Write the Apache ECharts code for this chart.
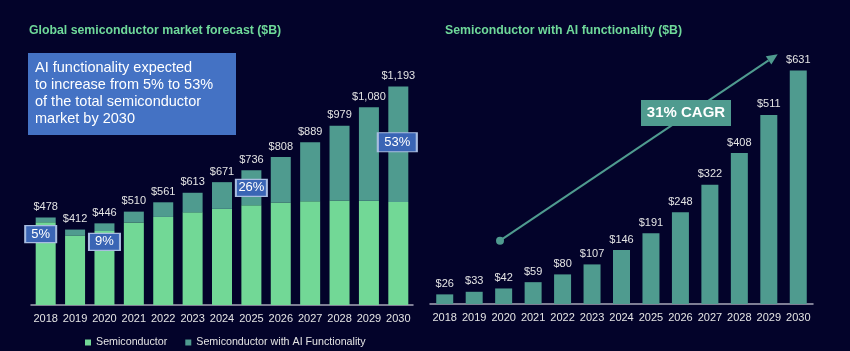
<!DOCTYPE html>
<html>
<head>
<meta charset="utf-8">
<script src="https://cdn.jsdelivr.net/npm/echarts@6/dist/echarts.min.js"></script>
<style>
  html, body { margin: 0; padding: 0; background: #03032a; }
  #chart { width: 850px; height: 351px; }
</style>
</head>
<body>
<div id="chart"></div>
<script>
const years = ['2018', '2019', '2020', '2021', '2022', '2023', '2024', '2025', '2026', '2027', '2028', '2029', '2030']
// left chart: stacked parts (non-AI + AI) and the total labels
const semiValues = [452, 379, 404, 451, 481, 506, 525, 545, 560, 567, 571, 569, 562]
const aiValues = [26, 33, 42, 59, 80, 107, 146, 191, 248, 322, 408, 511, 631]
const totalLabels = ['$478', '$412', '$446', '$510', '$561', '$613', '$671', '$736', '$808', '$889', '$979', '$1,080', '$1,193']
// AI share callouts: [year, y position value, text]
const shareBoxes = [['2018', 387, '5%'], ['2020', 345, '9%'], ['2025', 640, '26%'], ['2030', 889, '53%']]

const C = {
  bg: '#03032a', green: '#72d896', teal: '#4f9b8f', title: '#6fd99a',
  text: '#e4e4e4', axis: '#a8a8b8', blue: '#4472c4', boxBlue: '#3a65b5'
}
const FONT = '"Liberation Sans", Arial, sans-serif'

const chart = echarts.init(document.getElementById('chart'), null, { renderer: 'canvas' })

// arrow for CAGR
const a0 = [500, 240.7], a1 = [777.7, 54.3]
const dx = a1[0] - a0[0], dy = a1[1] - a0[1], len = Math.hypot(dx, dy)
const ux = dx / len, uy = dy / len
const hb = [a1[0] - 11 * ux, a1[1] - 11 * uy]

const xAxisBase = {
  type: 'category',
  data: years,
  axisLine: { lineStyle: { color: C.axis, width: 1.5 } },
  axisTick: { show: false },
  axisLabel: { color: C.text, fontSize: 11, fontFamily: FONT, margin: 8, interval: 0 }
}

const option = {
  backgroundColor: C.bg,
  animation: false,
  title: [
    { text: 'Global semiconductor market forecast ($B)', left: 24, top: 20, textStyle: { color: C.title, fontSize: 12.3, fontWeight: 'bold', fontFamily: FONT } },
    { text: 'Semiconductor with AI functionality ($B)', left: 440, top: 20, textStyle: { color: C.title, fontSize: 12.3, fontWeight: 'bold', fontFamily: FONT } }
  ],
  legend: {
    left: 80, top: 332,
    itemWidth: 6, itemHeight: 6, itemGap: 18,
    icon: 'rect',
    textStyle: { color: C.text, fontSize: 10.7, fontFamily: FONT },
    data: ['Semiconductor', 'Semiconductor with AI Functionality']
  },
  grid: [
    { left: 31, right: 437, top: 67, bottom: 46 },
    { left: 430, right: 37, top: 45, bottom: 47 }
  ],
  xAxis: [
    Object.assign({ gridIndex: 0 }, xAxisBase),
    Object.assign({ gridIndex: 1 }, xAxisBase)
  ],
  yAxis: [
    { gridIndex: 0, type: 'value', min: 0, max: 1300, show: false },
    { gridIndex: 1, type: 'value', min: 0, max: 700, show: false }
  ],
  series: [
    {
      name: 'Semiconductor',
      type: 'bar', stack: 'total', xAxisIndex: 0, yAxisIndex: 0,
      data: semiValues,
      barWidth: 20,
      itemStyle: { color: C.green },
      markPoint: {
        symbol: 'rect',
        z: 10,
        data: shareBoxes.map(b => ({
          coord: [b[0], b[1]],
          value: b[2],
          symbolSize: b[2] === '53%' ? [39, 19] : [31, 17],
          symbolOffset: b[0] === '2018' ? [-5, 0] : (b[0] === '2030' ? [-1, 0] : [0, 0])
        })),
        itemStyle: { color: C.boxBlue, borderColor: '#a9bde0', borderWidth: 1.5 },
        label: { show: true, formatter: p => p.value, color: '#ffffff', fontSize: 13, fontFamily: FONT }
      }
    },
    {
      name: 'Semiconductor with AI Functionality',
      type: 'bar', stack: 'total', xAxisIndex: 0, yAxisIndex: 0,
      data: aiValues,
      barWidth: 20,
      itemStyle: { color: C.teal },
      label: {
        show: true, position: 'top', distance: 5,
        formatter: p => totalLabels[p.dataIndex],
        color: C.text, fontSize: 11, fontFamily: FONT
      }
    },
    {
      name: 'AI only',
      type: 'bar', xAxisIndex: 1, yAxisIndex: 1,
      data: aiValues,
      barWidth: 17,
      itemStyle: { color: C.teal },
      label: {
        show: true, position: 'top', distance: 5,
        formatter: p => '$' + p.value,
        color: C.text, fontSize: 11, fontFamily: FONT
      }
    }
  ],
  graphic: [
    {
      type: 'rect', left: 28, top: 53, z: 5,
      shape: { width: 208, height: 82 },
      style: { fill: C.blue }
    },
    {
      type: 'text', left: 35, top: 59, z: 6,
      style: {
        text: 'AI functionality expected\nto increase from 5% to 53%\nof the total semiconductor\nmarket by 2030',
        fill: '#ffffff', fontSize: 14.5, lineHeight: 17, fontFamily: FONT
      }
    },
    {
      type: 'line', z: 5,
      shape: { x1: a0[0], y1: a0[1], x2: hb[0], y2: hb[1] },
      style: { stroke: C.teal, lineWidth: 2 }
    },
    {
      type: 'polygon', z: 5,
      shape: { points: [a1, [hb[0] + 5 * uy, hb[1] - 5 * ux], [hb[0] - 5 * uy, hb[1] + 5 * ux]] },
      style: { fill: C.teal }
    },
    {
      type: 'circle', z: 5,
      shape: { cx: a0[0], cy: a0[1], r: 4 },
      style: { fill: C.teal }
    },
    {
      type: 'rect', left: 641, top: 100, z: 6,
      shape: { width: 90, height: 26 },
      style: { fill: C.teal }
    },
    {
      type: 'text', z: 7,
      x: 686, y: 113,
      style: {
        text: '31% CAGR', fill: '#ffffff', fontSize: 15, fontWeight: 'bold', fontFamily: FONT,
        align: 'center', verticalAlign: 'middle'
      }
    }
  ]
}

chart.setOption(option)
</script>
</body>
</html>
